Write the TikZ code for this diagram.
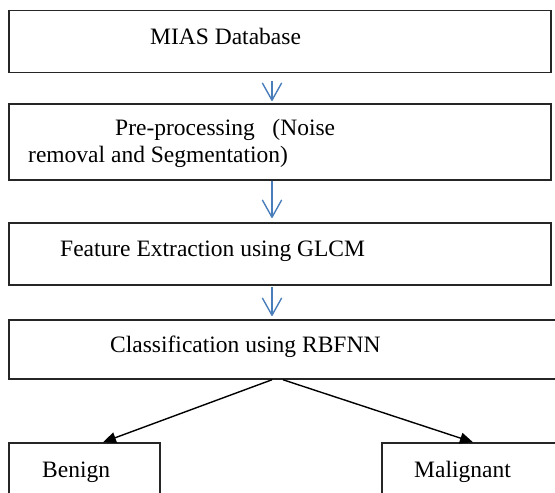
\documentclass[tikz,border=0pt]{standalone}
\usepackage{fontspec}
\setmainfont{Liberation Serif}
\usetikzlibrary{arrows.meta,calc}
\definecolor{flowblue}{RGB}{74,126,187}
\begin{document}
\begin{tikzpicture}[x=1pt,y=-1pt,
  box/.style={draw=black!85,line width=1.5pt,rectangle,inner sep=0pt},
  lbl/.style={anchor=base west,inner sep=0pt,font=\fontsize{23.5}{28}\selectfont},
  flow/.style={draw=flowblue,line width=1.4pt},
  split/.style={draw=black,line width=1.4pt,-{Triangle[length=13pt,width=11pt]}}]
\useasboundingbox (0,0) rectangle (555,493);
\begin{scope}
\clip (0,0) rectangle (555,493);
\node[box,minimum width=542pt,minimum height=62pt] (b1) at (280,41.5) {};
\node[box,minimum width=542pt,minimum height=76pt] (b2) at (280,142) {};
\node[box,minimum width=542pt,minimum height=62pt] (b3) at (280,254) {};
\node[box,minimum width=560pt,minimum height=59pt] (b4) at (289,349.5) {};
\node[box,minimum width=151pt,minimum height=80pt] (b5) at (84.5,483) {};
\node[box,minimum width=190pt,minimum height=80pt] (b6) at (477,483) {};
\end{scope}
\node[lbl] (t1) at (150,44) {MIAS Database};
\node[lbl] (t2a) at (115,135) {Pre-processing\ \ \ (Noise};
\node[lbl] (t2b) at (28,162) {removal and Segmentation)};
\node[lbl] (t3) at (60,256) {Feature Extraction using GLCM};
\node[lbl] (t4) at (110,352) {Classification using RBFNN};
\node[lbl] (t5) at (42,477) {Benign};
\node[lbl] (t6) at (414,477) {Malignant};
% blue flow arrows with open V heads
\foreach \a/\b/\s/\e in {b1/b2/8/3, b2/b3/0/5, b3/b4/1/4}{
  \coordinate (p) at ([yshift=-\s pt]\a.south -| 272,0);
  \coordinate (q) at ([yshift=\e pt]\b.north -| 272,0);
  \draw[flow] (p) -- (q);
  \draw[flow,line join=round,line cap=round] ($(q)+(-9.5,-17)$) -- (q) -- ($(q)+(9.5,-17)$);
}
\coordinate (sL) at (b4.south -| 272,0);
\coordinate (sR) at (b4.south -| 283,0);
\draw[split] (sL) -- ([xshift=18.5pt]b5.north);
\draw[split] (sR) -- ([xshift=-4pt]b6.north);
\end{tikzpicture}
\end{document}
